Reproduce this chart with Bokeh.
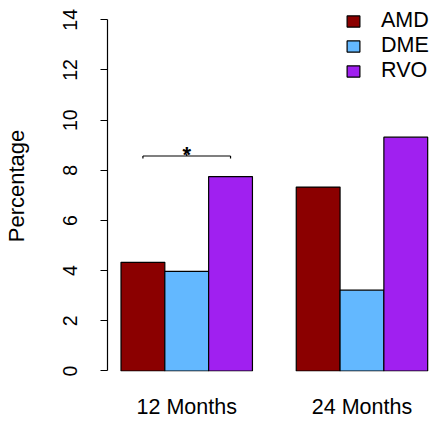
from bokeh.plotting import figure
from bokeh.models import Range1d, LinearAxis, FixedTicker, Legend, LegendItem
from bokeh.embed import file_html
from bokeh.resources import INLINE
from bokeh.core.properties import value

# ---- data ----
groups = ["12 Months", "24 Months"]
series = ["AMD", "DME", "RVO"]
amd = [4.33, 7.33]
dme = [3.97, 3.22]
rvo = [7.75, 9.32]
colors = ["#8B0000", "#63B8FF", "#A020F0"]
y_ticks = [0, 2, 4, 6, 8, 10, 12, 14]
sig_group = 0
sig_pair = (0, 2)
sig_label = "*"

values = [amd, dme, rvo]
FONT = value("Liberation Sans")
n_s = len(series)

def bar_center(g, s):
    return 1 + g * (n_s + 1) + s + 0.5

p = figure(width=432, height=422, output_backend="svg", toolbar_location=None,
           x_range=Range1d(0.6915, 8.110), y_range=Range1d(-0.02, 14.769),
           x_axis_type=None, y_axis_type=None,
           min_border_left=105, min_border_right=0, min_border_top=0, min_border_bottom=51)
p.outline_line_color = None
p.background_fill_color = "white"

items = []
for s, name in enumerate(series):
    xs = [bar_center(g, s) for g in range(len(groups))]
    r = p.vbar(x=xs, top=values[s], bottom=0, width=1.0,
               fill_color=colors[s], line_color="black", line_width=1.2)
    items.append(LegendItem(label=name, renderers=[r]))

# y axis
yaxis = LinearAxis(ticker=FixedTicker(ticks=y_ticks), bounds=(min(y_ticks), max(y_ticks)),
                   axis_label="Percentage")
yaxis.major_tick_out = 7
yaxis.major_tick_in = 0
yaxis.minor_tick_line_color = None
yaxis.axis_line_color = "black"
yaxis.axis_line_width = 1.2
yaxis.major_tick_line_width = 1.2
yaxis.major_label_orientation = "vertical"
yaxis.major_label_standoff = 23
yaxis.major_label_text_font = "Liberation Sans"
yaxis.major_label_text_font_size = "19.5px"
yaxis.major_label_text_color = "black"
yaxis.axis_label_text_font = "Liberation Sans"
yaxis.axis_label_text_font_size = "22px"
yaxis.axis_label_text_font_style = "normal"
yaxis.axis_label_text_color = "black"
yaxis.axis_label_standoff = 32
p.add_layout(yaxis, "left")

# group labels (bottom axis without line/ticks)
centers = [bar_center(g, (n_s - 1) / 2) for g in range(len(groups))]
xaxis = LinearAxis(ticker=FixedTicker(ticks=centers),
                   major_label_overrides={c: g for c, g in zip(centers, groups)})
xaxis.axis_line_color = None
xaxis.major_tick_line_color = None
xaxis.minor_tick_line_color = None
xaxis.major_tick_out = 0
xaxis.major_tick_in = 0
xaxis.major_label_standoff = 23
xaxis.major_label_text_font = "Liberation Sans"
xaxis.major_label_text_font_size = "21.5px"
xaxis.major_label_text_color = "black"
p.add_layout(xaxis, "below")

# significance bracket
bx0 = bar_center(sig_group, sig_pair[0])
bx1 = bar_center(sig_group, sig_pair[1])
bmid = (bx0 + bx1) / 2
by = max(values[sig_pair[0]][sig_group], values[sig_pair[1]][sig_group]) + 0.82
tk = 0.1
p.segment(x0=[bx0, bx0, bx1, bmid], y0=[by, by, by, by],
          x1=[bx1, bx0, bx1, bmid], y1=[by, by - tk, by - tk, by + tk],
          line_color="black", line_width=1.2)
p.text(x=[bmid], y=[by + 0.05], text=[sig_label], text_align="center",
       text_baseline="alphabetic", text_font=FONT, text_font_size="22px",
       text_font_style="bold", text_color="black")

legend = Legend(items=items, location=(238, 288))
legend.padding = 0
legend.margin = 0
legend.spacing = 0
legend.border_line_color = None
legend.background_fill_alpha = 0
legend.glyph_width = 16
legend.glyph_height = 14
legend.label_height = 25
legend.label_standoff = 20
legend.label_text_font = "Liberation Sans"
legend.label_text_font_size = "21.5px"
legend.label_text_color = "black"
p.add_layout(legend)

open("out.html", "w").write(file_html(p, INLINE))
